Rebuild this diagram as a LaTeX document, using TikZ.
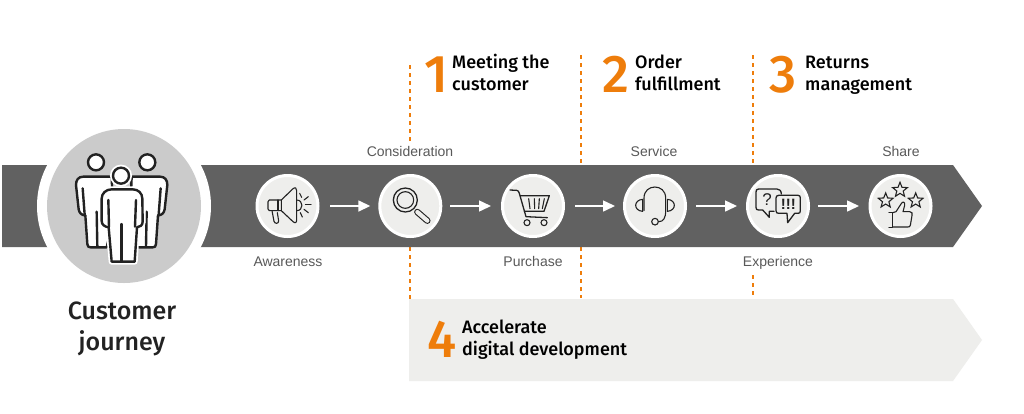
\documentclass[tikz,border=0pt]{standalone}
\usepackage{fontspec}
\setmainfont{Liberation Sans}
\newfontfamily\medfont{Fira Sans Medium}
\usetikzlibrary{arrows.meta,shapes.geometric}
\definecolor{band}{HTML}{616161}
\definecolor{bigdisc}{HTML}{CBCBCB}
\definecolor{paleband}{HTML}{EEEEEC}
\definecolor{orangeline}{HTML}{EE7D0B}
\definecolor{inkline}{HTML}{222222}
\definecolor{labelgrey}{HTML}{595959}
\tikzset{
  zoomed/.style 2 args={shift={(#1pt,-#2pt)},x=0.33333pt,y=-0.33333pt},
  iconline/.style={draw=inkline,line width=1.1pt,line join=round,line cap=round},
  person/.style={draw=inkline,fill=white,line width=2.4pt,line join=round,line cap=round},
  personin/.style={draw=inkline,line width=2.4pt,line cap=round},
  stepdisc/.style={circle,fill=paleband,draw=white,line width=3pt,minimum size=61pt,inner sep=0pt},
  flowarrow/.style 2 args={draw=white,line width=1.5pt,-{Triangle[length=12pt,width=11pt]},shorten <=#1pt,shorten >=#2pt},
  guide/.style={draw=orangeline,line width=1.1pt,dash pattern=on 4pt off 4pt},
  steplabel/.style={anchor=base,inner sep=0pt,text=labelgrey,font=\fontsize{14}{17}\selectfont},
  heading/.style={anchor=base west,inner sep=0pt,text=black,font=\medfont\fontsize{18}{20}\selectfont},
  bignum/.style={anchor=base west,inner sep=0pt,text=orangeline,font=\medfont\fontsize{53}{56}\selectfont},
  journey/.style={anchor=base,inner sep=0pt,text=inkline,font=\medfont\fontsize{25}{28}\selectfont},
  starmark/.style={star,star points=5,star point ratio=2.3,draw=inkline,fill=paleband,line width=1.1pt,minimum size=15.5pt,inner sep=0pt},
}
\begin{document}
\begin{tikzpicture}[x=1pt,y=-1pt]
\fill[white] (0,0) rectangle (1024,413);
\useasboundingbox (0,0) rectangle (1024,413);

% guide end points
\coordinate (g1a) at (410,65);  \coordinate (g1b) at (410,142);
\coordinate (g1c) at (410,247); \coordinate (g1d) at (410,299);
\coordinate (g2a) at (581,55);  \coordinate (g2b) at (581,165);
\coordinate (g2c) at (581,247); \coordinate (g2d) at (581,298);
\coordinate (g3a) at (753,55);  \coordinate (g3b) at (753,165);
\coordinate (g3c) at (753,275); \coordinate (g3d) at (753,299);
\draw[guide] (g1a) -- (g1b);
\draw[guide] (g1c) -- (g1d);
\draw[guide] (g2a) -- (g2b);
\draw[guide] (g2c) -- (g2d);
\draw[guide] (g3a) -- (g3b);
\draw[guide] (g3c) -- (g3d);

% bands
\fill[band] (2,165) -- (953,165) -- (982,206) -- (953,247) -- (2,247) -- cycle;
\fill[paleband] (409,299) -- (953,299) -- (982,340) -- (953,381) -- (409,381) -- cycle;

% customer disc
\fill[white] (124,206) circle[radius=87];
\node[circle,fill=bigdisc,minimum size=154pt,inner sep=0pt] (crowd) at (124,206) {};

% people
\begin{scope}[zoomed={0}{120}]
  \foreach \m/\o in {1/0,-1/730}{
    \begin{scope}[xscale=\m,xshift=\o*\m*0.33333pt]
      \draw[person] (288,127) circle[radius=24];
      \draw[person] (335,170) -- (250,170) .. controls (235,170) and (228,180) .. (228,195)
        -- (236,268) .. controls (238,280) and (246,286) .. (256,286) -- (262,372)
        .. controls (262,380) and (266,382) .. (272,382) -- (320,382) -- (340,300) -- (335,170);
      \draw[personin] (248,205) -- (254,284);
      \draw[personin] (290,275) -- (292,380);
    \end{scope}
  }
  \draw[draw=white,fill=white,line width=6pt] (363,167) circle[radius=24];
  \draw[person] (363,167) circle[radius=24];
  \draw[draw=white,line width=6pt,fill=white,line join=round]
    (335,208) -- (398,208) .. controls (415,208) and (427,220) .. (427,236) -- (428,305)
    .. controls (428,315) and (420,322) .. (411,322) -- (404,425) -- (335,425) -- (326,322)
    .. controls (315,320) and (305,315) .. (305,303) -- (305,236) .. controls (305,220) and (318,208) .. (335,208) -- cycle;
  \draw[person]
    (335,208) -- (398,208) .. controls (415,208) and (427,220) .. (427,236) -- (428,305)
    .. controls (428,315) and (420,322) .. (411,322) -- (404,425) -- (335,425) -- (326,322)
    .. controls (315,320) and (305,315) .. (305,303) -- (305,236) .. controls (305,220) and (318,208) .. (335,208) -- cycle;
  \draw[personin] (325,240) -- (327,320);
  \draw[personin] (408,240) -- (405,320);
  \draw[personin] (365,312) -- (365,425);
\end{scope}

% steps
\node[stepdisc] (s1) at (287.5,206) {};
\node[stepdisc] (s2) at (410.3,206) {};
\node[stepdisc] (s3) at (533,206) {};
\node[stepdisc] (s4) at (655,206) {};
\node[stepdisc] (s5) at (778,206) {};
\node[stepdisc] (s6) at (900.5,206) {};
\draw[flowarrow={10.5}{8}] (s1) -- (s2);
\draw[flowarrow={8}{10}] (s2) -- (s3);
\draw[flowarrow={10}{8}] (s3) -- (s4);
\draw[flowarrow={9}{9}] (s4) -- (s5);
\draw[flowarrow={8}{9.5}] (s5) -- (s6);

% megaphone
\begin{scope}[zoomed={252}{170}]
  \draw[iconline] (88,90) -- (52,90) .. controls (49,90) and (48,92) .. (48,95) -- (48,117)
     .. controls (48,120) and (49,122) .. (52,122) -- (88,122);
  \draw[iconline] (78,90) -- (78,122);
  \draw[iconline] (88,90) -- (122,57) .. controls (130,50) and (134,54) .. (134,62) -- (134,150)
     .. controls (134,160) and (128,160) .. (122,154) -- (88,122) -- cycle;
  \draw[iconline] (60,122) -- (66,154) .. controls (68,162) and (80,162) .. (80,153) -- (76,128);
  \draw[iconline] (134,90) .. controls (155,90) and (155,122) .. (134,122);
  \draw[iconline] (143,70) -- (149,82);
  \draw[iconline] (169,80) -- (156,90);
  \draw[iconline] (160,104) -- (177,104);
  \draw[iconline] (156,118) -- (169,128);
  \draw[iconline] (145,128) -- (151,141);
\end{scope}

% magnifier
\begin{scope}[zoomed={340}{150}]
  \draw[draw=inkline,line width=6.4pt,line cap=round] (232,186) -- (262,212);
  \draw[draw=paleband,line width=4.2pt,line cap=round] (232,186) -- (262,212);
  \draw[iconline,fill=paleband,line width=1.3pt] (196,150) circle[radius=36];
  \draw[iconline] (196,150) circle[radius=25];
\end{scope}

% cart
\begin{scope}[zoomed={340}{150}]
  \draw[iconline,line width=1.3pt] (510,120) -- (530,121) .. controls (535,121) and (536,125) .. (538,130) -- (558,200) -- (622,203);
  \draw[iconline,line width=1.3pt] (541,137) -- (628,137) -- (612,184) -- (553,184);
  \draw[iconline] (566,146) -- (570,176);
  \draw[iconline] (583,146) -- (584,176);
  \draw[iconline] (598,146) -- (596,176);
  \draw[iconline] (613,146) -- (607,176);
  \draw[iconline] (561,218) circle[radius=9];
  \draw[iconline] (612,218) circle[radius=9];
\end{scope}

% headset
\begin{scope}[zoomed={620}{170}]
  \draw[iconline] (72,122) -- (72,84) .. controls (72,40) and (137,40) .. (137,84) -- (137,122)
    .. controls (137,145) and (130,155) .. (116,155);
  \draw[iconline] (68,88) .. controls (40,90) and (40,122) .. (68,124) -- cycle;
  \draw[iconline] (142,88) .. controls (170,90) and (170,122) .. (142,124) -- cycle;
  \draw[iconline] (105,155) circle[radius=10];
\end{scope}

% speech bubbles
\begin{scope}[zoomed={742}{170}]
  \draw[iconline,line width=1.3pt] (118,72) .. controls (118,62) and (112,57) .. (105,57) -- (50,57) .. controls (44,57) and (42,60) .. (42,66)
    -- (42,112) .. controls (42,118) and (44,120) .. (50,120) -- (62,120) -- (82,142) -- (82,124) -- (96,124);
  \node[inner sep=0pt,text=inkline,font=\fontsize{17}{18}\selectfont] (qmark) at (75,90) {?};
  \draw[iconline,fill=paleband,line width=1.3pt] (110,76) -- (168,76) .. controls (173,76) and (175,79) .. (175,84)
    -- (175,122) .. controls (175,128) and (173,130) .. (168,130) -- (158,130) -- (137,158) -- (135,130) -- (110,130)
    .. controls (105,130) and (102,128) .. (102,122) -- (102,84) .. controls (102,79) and (105,76) .. (110,76) -- cycle;
  \node[inner sep=0pt,text=inkline,font=\bfseries\fontsize{15}{18}\selectfont] (bangs) at (139,103) {!!!};
\end{scope}

% stars and thumb
\begin{scope}[zoomed={865}{170}]
  \node[starmark] (st1) at (105,60) {};
  \node[starmark] (st2) at (62,92) {};
  \node[starmark] (st3) at (152,92) {};
  \draw[iconline] (72,127) -- (83,127) -- (83,172) -- (72,172);
  \draw[iconline] (83,128) -- (93,125) -- (108,102) .. controls (113,92) and (121,96) .. (119,106) -- (114,125) -- (134,125)
     .. controls (141,125) and (143,130) .. (141,136) -- (136,166) .. controls (135,170) and (132,171) .. (128,171) -- (83,171);
\end{scope}

% step labels
\node[steplabel] (l1) at (288,266) {Awareness};
\node[steplabel] (l2) at (410,156) {Consideration};
\node[steplabel] (l3) at (533,266) {Purchase};
\node[steplabel] (l4) at (654,156) {Service};
\node[steplabel] (l5) at (778,266) {Experience};
\node[steplabel] (l6) at (901,156) {Share};

% headings
\node[bignum] (n1) at (424,92) {1};
\node[heading] (h1a) at (452,68.5) {Meeting the};
\node[heading] (h1b) at (452,90.5) {customer};
\node[bignum] (n2) at (602,92) {2};
\node[heading] (h2a) at (635,68.5) {Order};
\node[heading] (h2b) at (635,90.5) {fulfillment};
\node[bignum] (n3) at (769,92) {3};
\node[heading] (h3a) at (805,68.5) {Returns};
\node[heading] (h3b) at (805,90.5) {management};
\node[bignum] (n4) at (427,357) {4};
\node[heading] (h4a) at (462,333) {Accelerate};
\node[heading] (h4b) at (462,355) {digital development};

\node[journey] (j1) at (122,319) {Customer};
\node[journey] (j2) at (122,350) {journey};
\end{tikzpicture}
\end{document}
